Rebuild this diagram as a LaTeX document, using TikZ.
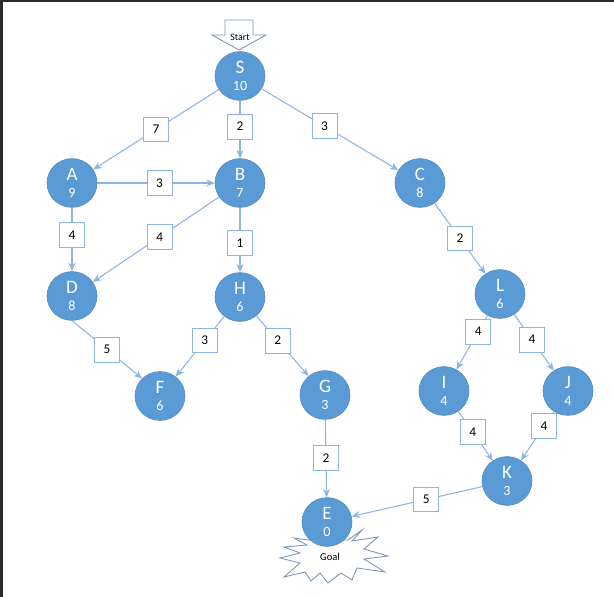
\documentclass[tikz,border=0pt]{standalone}
\usepackage{fontspec}
\setmainfont{Carlito}
\usetikzlibrary{shapes.geometric,arrows.meta}
\definecolor{nodeblue}{HTML}{5B9BD5}
\definecolor{nodeline}{HTML}{4F87BF}
\definecolor{edgeblue}{HTML}{8EB4E3}
\definecolor{shapeline}{HTML}{7A93B3}
\definecolor{frame}{HTML}{2B2B2B}
\tikzset{
    state/.style={
        ellipse,
        fill=nodeblue,
        draw=nodeline,
        line width=0.4pt,
        minimum width=1.25cm,
        minimum height=1.22cm,
        inner sep=0pt,
        text=white,
        align=center,
        font=\fontsize{13.5}{13}\selectfont
    },
    weight/.style={
        draw,
        fill=white,
        line width=0.6pt,
        minimum size=0.62cm,
        inner sep=0pt,
        font=\fontsize{9.5}{10}\selectfont
    },
    edge/.style={
        draw=edgeblue,
        line width=0.75pt,
        -{Stealth[length=6pt,width=5pt]}
    }
}
\newcommand{\stlabel}[2]{#1\\[-1pt]{\fontsize{10}{10}\selectfont #2}}

\begin{document}
\begin{tikzpicture}[x=0.025cm,y=-0.025cm]
  \useasboundingbox (0,0) rectangle (614,597);
  \fill[frame] (0,0) rectangle (614,2);
  \fill[frame] (0,0) rectangle (3,597);

  % start arrow and goal burst
  \draw[shapeline,fill=white,line width=0.6pt]
    (225,20) -- (253,20) -- (253,35) -- (266,35) -- (239,50) -- (212,35) -- (225,35) -- cycle;
  \node[font=\fontsize{7}{8}\selectfont] (start) at (240,37) {Start};
  \draw[shapeline,fill=white,line width=0.6pt]
    (308,540) -- (294,538) -- (307,545) -- (284,547) -- (300,553) -- (280,558)
    -- (300,563) -- (284,577) -- (305,572) -- (311,581) -- (320,573) -- (328,583)
    -- (341,573) -- (352,580) -- (357,568) -- (385,572) -- (364,559) -- (388,556)
    -- (364,549) -- (378,537) -- (352,541) -- (362,530) -- (348,540) -- cycle;
  \node[font=\fontsize{7.5}{8}\selectfont] (goal) at (330,557) {Goal};

  % states
  \node[state] (S) at (240,76)  {\stlabel{S}{10}};
  \node[state] (A) at (72,183)  {\stlabel{A}{9}};
  \node[state] (B) at (240,183) {\stlabel{B}{7}};
  \node[state] (C) at (420,183) {\stlabel{C}{8}};
  \node[state] (D) at (72,296)  {\stlabel{D}{8}};
  \node[state] (H) at (240,297) {\stlabel{H}{6}};
  \node[state] (L) at (500,294) {\stlabel{L}{6}};
  \node[state] (F) at (160,396) {\stlabel{F}{6}};
  \node[state] (G) at (325,395) {\stlabel{G}{3}};
  \node[state] (I) at (444,391) {\stlabel{I}{4}};
  \node[state] (J) at (568,391) {\stlabel{J}{4}};
  \node[state] (K) at (507,481) {\stlabel{K}{3}};
  \node[state] (E) at (327,522) {\stlabel{E}{0}};

  % edges with costs
  \draw[edge] (S) -- node[weight,pos=0.5]{7} (A);
  \draw[edge] (S) -- node[weight,pos=0.45]{2} (B);
  \draw[edge] (S) -- node[weight,pos=0.46]{3} (C);
  \draw[edge] (A) -- node[weight,pos=0.53]{3} (B);
  \draw[edge] (A) -- node[weight,pos=0.43]{4} (D);
  \draw[edge] (B) -- node[weight,pos=0.47]{4} (D);
  \draw[edge] (B) -- node[weight,pos=0.55]{1} (H);
  \draw[edge] (C) -- node[weight,pos=0.5]{2} (L);
  \draw[edge] (D.south) -- node[weight,pos=0.5]{5} (F.north west);
  \draw[edge] (H) -- node[weight,pos=0.4]{3} (F);
  \draw[edge] (H) -- node[weight,pos=0.41]{2} (G);
  \draw[edge] (G) -- node[weight,pos=0.49]{2} (E);
  \draw[edge] (L) -- node[weight,pos=0.3]{4} (I);
  \draw[edge] (L) -- node[weight,pos=0.45]{4} (J);
  \draw[edge] (I) -- node[weight,pos=0.42]{4} (K);
  \draw[edge] (J) -- node[weight,pos=0.3]{4} (K);
  \draw[edge] (K) -- node[weight,pos=0.43]{5} (E);
\end{tikzpicture}
\end{document}
